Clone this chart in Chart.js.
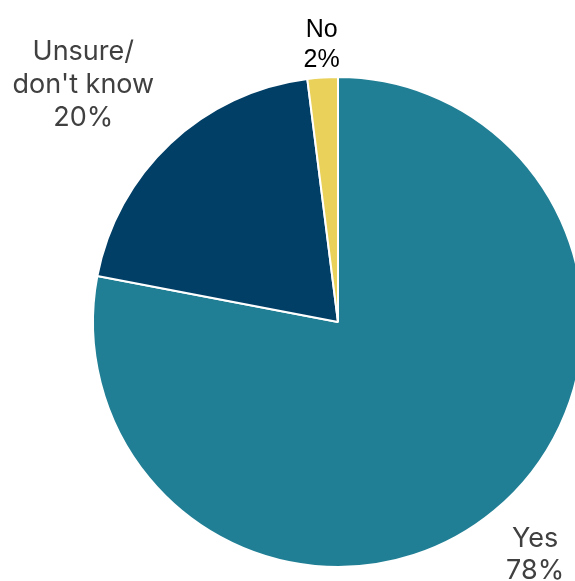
<!DOCTYPE html>
<html>
<head>
<meta charset="utf-8">
<title>Pie</title>
<script src="https://cdn.jsdelivr.net/npm/chart.js@4.4.0/dist/chart.umd.min.js"></script>
<style>
  html, body { margin: 0; padding: 0; width: 575px; height: 581px; overflow: hidden; background: #fff; }
  #wrap { position: absolute; left: -12px; top: -28px; width: 700px; height: 700px; }
</style>
</head>
<body>
<div id="wrap"><canvas id="myChart" width="700" height="700"></canvas></div>

<script>
  // chart data
  const categories = ["Yes", "Unsure/\ndon't know", "No"];
  const values = [78, 20, 2];
  const colors = ["#217F95", "#023F67", "#E9D15A"];

  // label styling / offset from the slice's outer mid point
  const labelOffset = [[41, 44], [-87, -59], [-1, -32.5]];
  const labelColor = ["#404040", "#404040", "#000000"];
  const labelFont = ["27px Inter, sans-serif", "27px Inter, sans-serif", "25px 'Liberation Sans', Arial, sans-serif"];
  const labelLine = [32, 33, 30];

  const outsideLabels = {
    id: "outsideLabels",
    afterDatasetsDraw(chart) {
      const ctx = chart.ctx;
      const meta = chart.getDatasetMeta(0);
      ctx.save();
      ctx.textAlign = "center";
      ctx.textBaseline = "middle";
      meta.data.forEach(function(arc, i) {
        const p = arc.getProps(["x", "y", "startAngle", "endAngle", "outerRadius"], true);
        const mid = (p.startAngle + p.endAngle) / 2;
        const cx = p.x + Math.cos(mid) * p.outerRadius + labelOffset[i][0];
        const cy = p.y + Math.sin(mid) * p.outerRadius + labelOffset[i][1];
        const lines = categories[i].split("\n").concat([values[i] + "%"]);
        const lh = labelLine[i];
        const y0 = cy - (lines.length - 1) * lh / 2;
        ctx.font = labelFont[i];
        ctx.fillStyle = labelColor[i];
        lines.forEach(function(t, k) {
          ctx.fillText(t, cx, y0 + k * lh);
        });
      });
      ctx.restore();
    }
  };

  new Chart("myChart", {
    type: "pie",
    data: {
      labels: categories,
      datasets: [{
        data: values,
        backgroundColor: colors,
        borderColor: "#ffffff",
        borderWidth: 2
      }]
    },
    options: {
      responsive: false,
      animation: false,
      layout: { padding: 104 },
      plugins: {
        legend: { display: false },
        tooltip: { enabled: false }
      }
    },
    plugins: [outsideLabels]
  });
</script>
</body>
</html>
